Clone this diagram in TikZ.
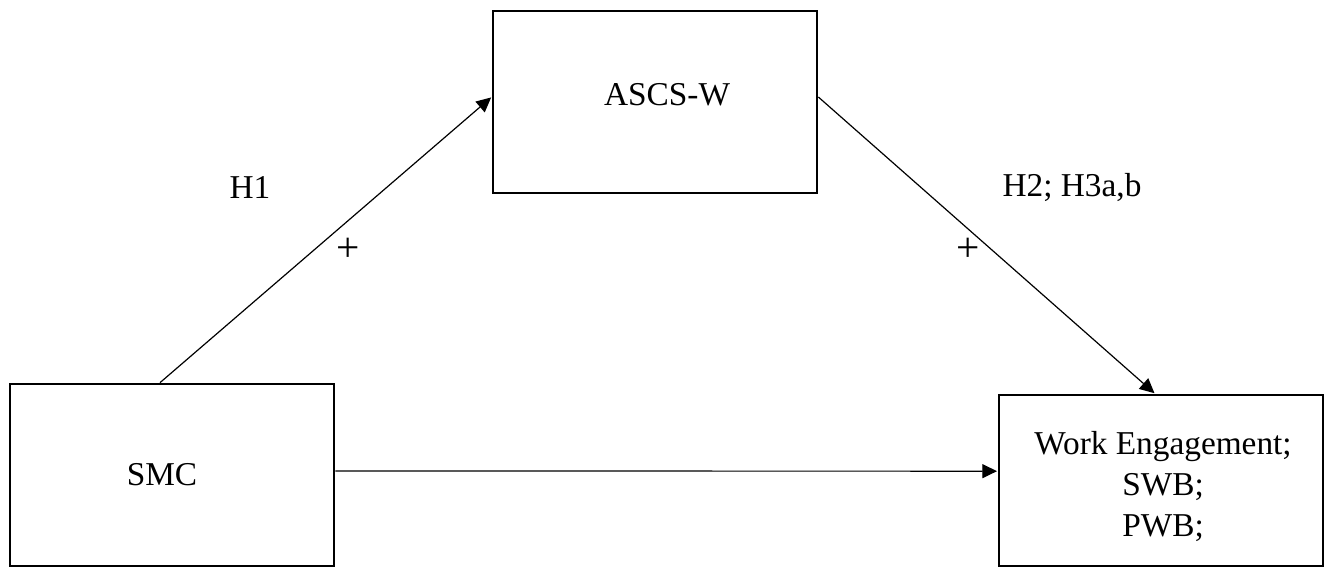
\documentclass[tikz,border=0pt]{standalone}
\usepackage{fontspec}
\setmainfont{Liberation Serif}
\usetikzlibrary{arrows.meta}
\begin{document}
\begin{tikzpicture}[x=0.75pt,y=-0.75pt,
  box/.style={draw, line width=2pt, minimum width=243pt, inner sep=0pt},
  lbl/.style={font=\fontsize{25}{30.75}\selectfont, inner sep=0pt, align=center},
  sign/.style={font=\fontsize{31}{31}\selectfont, inner sep=0pt},
  arr/.style={line width=0.9pt, -{Triangle[length=11pt,width=10.5pt]}, shorten >=0.5pt}]
\useasboundingbox (0,0) rectangle (1331,567);
% boxes
\node[box, minimum height=136.5pt] (ascs) at (655,102) {};
\node[box, minimum height=136.5pt] (smc) at (172,475) {};
\node[box, minimum height=128.25pt] (we) at (1161,480.5) {};
% box texts
\node[lbl] (ascsT) at (667,95) {ASCS-W};
\node[lbl] (smcT) at (162,475) {SMC};
\node[lbl] (weT) at (1163,486) {Work Engagement;\\SWB;\\PWB;};
% paths
\draw[arr] ([xshift=-9pt]smc.north) -- ([yshift=3.75pt]ascs.west);
\draw[arr] ([yshift=3.75pt]ascs.east) -- ([xshift=-4.5pt]we.north);
\draw[arr] ([yshift=3pt]smc.east) -- ([yshift=7pt]we.west);
% path labels
\node[lbl] (h1) at (250,187) {H1};
\node[sign] (p1) at (348,250) {+};
\node[lbl] (h2) at (1072,187) {H2; H3a,b};
\node[sign] (p2) at (968,250) {+};
\end{tikzpicture}
\end{document}
